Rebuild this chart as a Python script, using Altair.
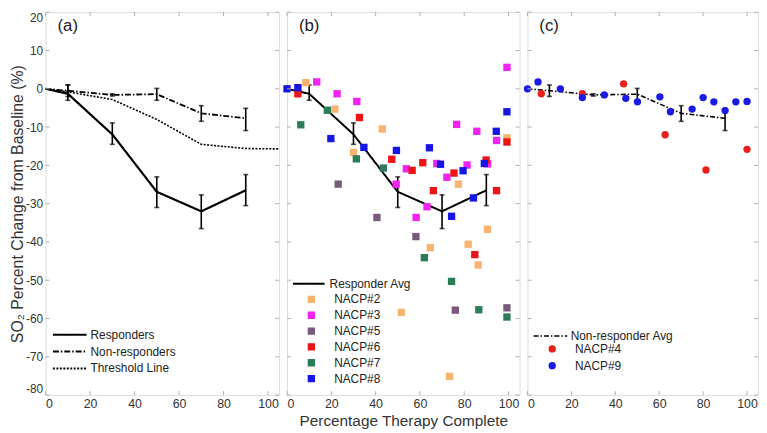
import altair as alt
import pandas as pd

FONT = "Liberation Sans"

# ---------------- data ----------------
# panel (a) group averages
avg_x = [0, 10, 30, 50, 70, 90]
resp_y = [0, -1.3, -11.9, -26.9, -32.0, -26.5]
resp_lo = [None, -3.0, -14.5, -31.0, -36.5, -30.5]
resp_hi = [None, 1.0, -8.9, -23.0, -27.7, -22.4]
nonr_y = [0, -0.5, -1.6, -1.4, -6.4, -7.7]
nonr_lo = [None, -2.0, -1.9, -3.0, -8.5, -10.9]
nonr_hi = [None, 1.0, -1.3, 0.1, -4.4, -5.1]
thr_x = [0, 10, 30, 50, 70, 90, 105]
thr_y = [0, -0.8, -2.8, -8.0, -14.5, -15.6, -15.7]

# panel (b) responder patients
b_series = ["NACP#2", "NACP#3", "NACP#5", "NACP#6", "NACP#7", "NACP#8"]
b_colors = ["#F8B36E", "#F222F2", "#7A5A7C", "#EC1414", "#2B7D58", "#1616E4"]
n2_x = [8.5, 21.6, 43.0, 30.0, 77.4, 99.3, 90.5, 81.8, 64.7, 86.3, 51.6, 73.4]
n2_y = [1.6, -5.3, -10.5, -16.6, -24.9, -12.8, -36.7, -40.6, -41.5, -46.0, -58.4, -75.1]
n3_x = [13.4, 22.6, 31.5, 49.3, 53.9, 63.2, 58.3, 67.6, 72.2, 76.6, 81.3, 85.7, 90.6, 94.6, 99.3]
n3_y = [1.8, -1.3, -3.3, -24.9, -20.9, -30.8, -33.6, -19.5, -23.1, -9.3, -19.9, -11.1, -19.6, -13.5, 5.6]
n5_x = [23.1, 40.6, 58.2, 76.0, 99.3]
n5_y = [-24.9, -33.6, -38.6, -57.8, -57.2]
n6_x = [4.9, 32.7, 47.3, 56.5, 61.3, 66.1, 75.4, 84.8, 89.9, 94.6, 99.3]
n6_y = [-1.3, -7.5, -18.4, -21.3, -19.3, -26.6, -22.0, -43.3, -18.6, -26.6, -13.9]
n7_x = [6.2, 18.2, 31.3, 43.5, 62.0, 74.3, 86.6, 99.3]
n7_y = [-9.4, -5.6, -18.3, -20.7, -44.1, -50.3, -57.7, -59.6]
n8_x = [0, 4.9, 19.8, 34.7, 49.4, 64.3, 69.3, 79.5, 89.1, 94.5, 99.3, 84.2, 74.3]
n8_y = [0, 0.3, -13.0, -15.3, -16.1, -15.4, -19.7, -21.4, -19.5, -11.1, -6.0, -28.5, -33.3]

# panel (c) non-responder patients
c_series = ["NACP#4", "NACP#9"]
c_colors = ["#E8201C", "#1A1AE2"]
n4_x = [6.3, 25.0, 43.8, 62.7, 81.3, 100.0]
n4_y = [-1.3, -1.3, 1.3, -12.0, -21.2, -15.8]
n9_x = [0, 4.8, 15.0, 25.0, 35.0, 44.8, 50.1, 60.3, 65.1, 75.0, 80.0, 84.9, 90.0, 94.9, 100.0]
n9_y = [0, 1.8, 0, -2.3, -1.6, -2.5, -3.4, -2.1, -6.0, -5.3, -2.3, -3.4, -5.7, -3.4, -3.3]

x_ticks = [0, 20, 40, 60, 80, 100]
y_ticks = [20, 10, 0, -10, -20, -30, -40, -50, -60, -70, -80]
panel_labels = ["(a)", "(b)", "(c)"]
x_title = "Percentage Therapy Complete"
y_title = "SO\u2082 Percent Change from Baseline (%)"

# ---------------- tables ----------------
lines_a = pd.DataFrame(
    [{"x": x, "y": y, "s": "Responders", "w": 2.2} for x, y in zip(avg_x, resp_y)]
    + [{"x": x, "y": y, "s": "Non-responders", "w": 1.8} for x, y in zip(avg_x, nonr_y)]
    + [{"x": x, "y": y, "s": "Threshold Line", "w": 1.6} for x, y in zip(thr_x, thr_y)]
)
err_resp = pd.DataFrame({"x": avg_x, "y": resp_lo, "hi": resp_hi}).dropna()
err_nonr = pd.DataFrame({"x": avg_x, "y": nonr_lo, "hi": nonr_hi}).dropna()
resp_line = pd.DataFrame({"x": avg_x, "y": resp_y, "s": "Responder Avg"})
nonr_line = pd.DataFrame({"x": avg_x, "y": nonr_y, "s": "Non-responder Avg"})

pts_b = pd.concat([
    pd.DataFrame({"x": xs, "y": ys, "s": s})
    for s, xs, ys in zip(b_series, [n2_x, n3_x, n5_x, n6_x, n7_x, n8_x],
                         [n2_y, n3_y, n5_y, n6_y, n7_y, n8_y])
], ignore_index=True)
pts_b["o"] = pts_b["s"].map({s: i for i, s in enumerate(b_series)})
pts_c = pd.concat([
    pd.DataFrame({"x": xs, "y": ys, "s": s})
    for s, xs, ys in zip(c_series, [n4_x, n9_x], [n4_y, n9_y])
], ignore_index=True)

xt = pd.DataFrame({"x": x_ticks})
yt = pd.DataFrame({"y": y_ticks})

W = [236, 235, 233]
H = 387
XDOM = [0, 105]
YDOM = [-80, 20]
GRAY = "#b0b0b0"
HYPHEN = "datum.value < 0 ? '-' + abs(datum.value) : '' + datum.value"


def XS():
    return alt.Scale(domain=XDOM, nice=False, zero=False)


def YS():
    return alt.Scale(domain=YDOM, nice=False, zero=False)


def x_axis(title):
    return alt.Axis(values=x_ticks, grid=False, domain=False, ticks=False, tickSize=0,
                    labelPadding=3, labelFontSize=12.5, labelFont=FONT,
                    labelColor="#333", labelOverlap=False, title=title,
                    titleFont=FONT, titleFontSize=15.5, titleFontWeight="normal",
                    titleColor="#333", titlePadding=3)


def y_axis():
    return alt.Axis(values=y_ticks, grid=False, domain=False, ticks=False, tickSize=0,
                    labelPadding=3, labelFontSize=12, labelFont=FONT, labelColor="#333",
                    labelOverlap=False, labelFlush=True, labelExpr=HYPHEN, title=y_title,
                    titleFont=FONT, titleFontSize=16, titleFontWeight="normal",
                    titleColor="#333", titleBaseline="alphabetic", titleAngle=270,
                    titleX=-23.5, titleY=H / 2)


class Panel:
    def __init__(self, w, xtitle, show_y):
        self.w = w
        self.xa = x_axis(xtitle)
        self.ya = y_axis() if show_y else None

    def X(self, field="x:Q"):
        return alt.X(field, scale=XS(), axis=self.xa)

    def Y(self, field="y:Q"):
        return alt.Y(field, scale=YS(), axis=self.ya)

    def ticks(self):
        w = self.w
        top = alt.Chart(xt).mark_rule(color=GRAY, strokeWidth=1).encode(
            x=self.X(), y=alt.value(0), y2=alt.value(4))
        bot = alt.Chart(xt).mark_rule(color=GRAY, strokeWidth=1).encode(
            x=self.X(), y=alt.value(H), y2=alt.value(H - 4))
        lef = alt.Chart(yt).mark_rule(color=GRAY, strokeWidth=1).encode(
            y=self.Y(), x=alt.value(0), x2=alt.value(4))
        rig = alt.Chart(yt).mark_rule(color=GRAY, strokeWidth=1).encode(
            y=self.Y(), x=alt.value(w), x2=alt.value(w - 4))
        return [top, bot, lef, rig]

    def errbars(self, df):
        return alt.Chart(df).mark_errorbar(ticks=True, size=5, thickness=1.6,
                                           color="black").encode(
            x=self.X(), y=self.Y(), y2="hi:Q")


def label_layer(t):
    return alt.Chart(pd.DataFrame({"t": [t]})).mark_text(
        align="left", baseline="middle", font=FONT, fontSize=17, color="#222"
    ).encode(x=alt.value(12), y=alt.value(14), text="t:N")


def line_legend(lx, ly, size, sw, offset, clip):
    return alt.Legend(orient="none", legendX=lx, legendY=ly, title=None,
                      symbolType="stroke", symbolSize=size, symbolStrokeWidth=sw,
                      symbolStrokeColor="black", labelFont=FONT, labelFontSize=12,
                      labelColor="#222", labelOffset=offset, clipHeight=clip, rowPadding=0,
                      padding=0)


def sym_legend(lx, ly, shape, offset, clip):
    return alt.Legend(orient="none", legendX=lx, legendY=ly, title=None,
                      symbolType=shape, symbolSize=55, symbolStrokeWidth=0,
                      labelFont=FONT, labelFontSize=12, labelColor="#222",
                      labelOffset=offset, clipHeight=clip, rowPadding=0, padding=0,
                      symbolOpacity=1)


# ---------------- panel (a) ----------------
A = Panel(W[0], None, True)
la = alt.Chart(lines_a).mark_line(color="black").encode(
    x=A.X(), y=A.Y(),
    strokeDash=alt.StrokeDash("s:N",
        scale=alt.Scale(domain=["Responders", "Non-responders", "Threshold Line"],
                        range=[[1, 0], [6, 2, 1.5, 2], [2, 1.5]]),
        legend=line_legend(6.4, 317.5, 1156, 2, 3, 17)),
    strokeWidth=alt.StrokeWidth("w:Q", scale=None, legend=None),
)
panel_a = alt.layer(la, A.errbars(err_resp), A.errbars(err_nonr), *A.ticks(),
                    label_layer(panel_labels[0])).properties(width=W[0], height=H)

# ---------------- panel (b) ----------------
B = Panel(W[1], x_title, False)
lb = alt.Chart(resp_line).mark_line(color="black", strokeWidth=2).encode(
    x=B.X(), y=B.Y(),
    strokeDash=alt.StrokeDash("s:N", scale=alt.Scale(domain=["Responder Avg"], range=[[1, 0]]),
                              legend=line_legend(5, 266.5, 1024, 2, 4, 16)),
)
pb = alt.Chart(pts_b).mark_square(size=55, opacity=1).encode(
    x=B.X(), y=B.Y(),
    color=alt.Color("s:N", scale=alt.Scale(domain=b_series, range=b_colors),
                    legend=sym_legend(18.6, 282.3, "square", 17, 16)),
    order=alt.Order("o:Q"),
)
panel_b = alt.layer(lb, B.errbars(err_resp), pb, *B.ticks(),
                    label_layer(panel_labels[1])).properties(width=W[1], height=H)

# ---------------- panel (c) ----------------
C = Panel(W[2], None, False)
lc = alt.Chart(nonr_line).mark_line(color="black", strokeWidth=1.6).encode(
    x=C.X(), y=C.Y(),
    strokeDash=alt.StrokeDash("s:N", scale=alt.Scale(domain=["Non-responder Avg"],
                                                     range=[[5, 2, 1.5, 2]]),
                              legend=line_legend(5.2, 319.3, 1156, 1.6, 2.5, 16)),
)
pc = alt.Chart(pts_c).mark_circle(size=55, opacity=1).encode(
    x=C.X(), y=C.Y(),
    color=alt.Color("s:N", scale=alt.Scale(domain=c_series, range=c_colors),
                    legend=sym_legend(19, 332, "circle", 17, 16.5)),
)
panel_c = alt.layer(lc, C.errbars(err_nonr), pc, *C.ticks(),
                    label_layer(panel_labels[2])).properties(width=W[2], height=H)

chart = alt.hconcat(panel_a, panel_b, panel_c, spacing=8, bounds="flush").resolve_scale(
    color="independent", strokeDash="independent", x="independent", y="independent"
).resolve_legend(color="independent", strokeDash="independent").properties(
    padding={"left": 0, "top": 0, "right": 0, "bottom": 0}
).configure_view(stroke=GRAY, strokeWidth=1).configure(background="white")

chart.save("out.html", embed_options={"renderer": "svg", "actions": False})
